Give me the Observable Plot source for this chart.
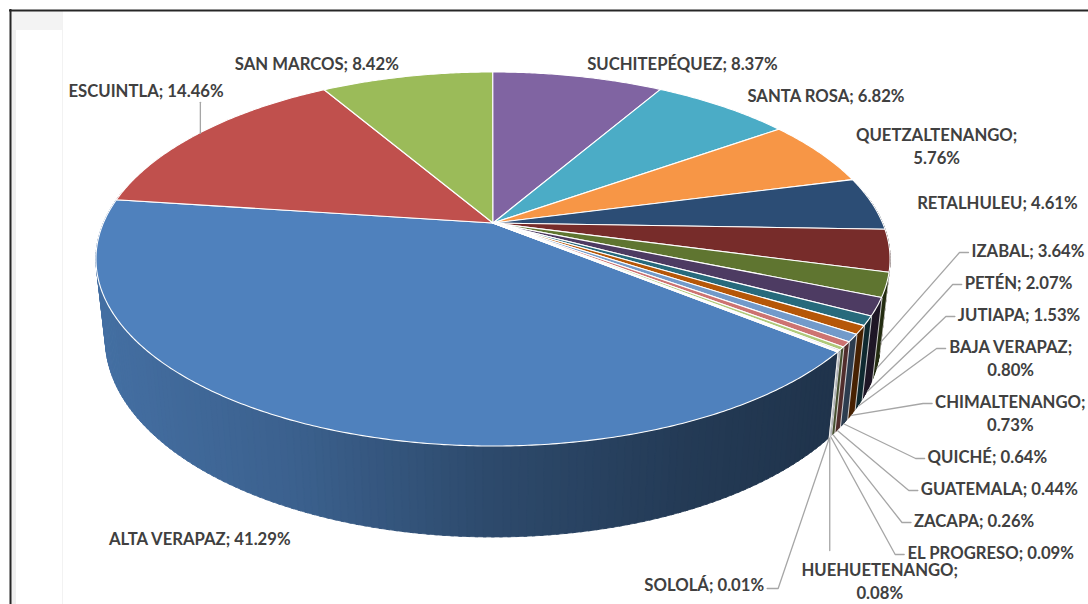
<!DOCTYPE html>
<html>
<head>
<meta charset="utf-8">
<script src="https://cdn.jsdelivr.net/npm/d3@7"></script>
<script src="https://cdn.jsdelivr.net/npm/@observablehq/plot@0.6"></script>
<style>
  html, body { margin: 0; padding: 0; background: #fff; }
  svg { display: block; }
</style>
</head>
<body>
<div id="chart"></div>
<script>
// ---------------- data ----------------
const categories = ["ALTA VERAPAZ", "ESCUINTLA", "SAN MARCOS", "SUCHITEPÉQUEZ", "SANTA ROSA",
  "QUETZALTENANGO", "RETALHULEU", "IZABAL", "PETÉN", "JUTIAPA", "BAJA VERAPAZ", "CHIMALTENANGO",
  "QUICHÉ", "GUATEMALA", "ZACAPA", "EL PROGRESO", "HUEHUETENANGO", "SOLOLÁ"];
const values = [41.29, 14.46, 8.42, 8.37, 6.82, 5.76, 4.61, 3.64, 2.07, 1.53, 0.80, 0.73,
  0.64, 0.44, 0.26, 0.09, 0.08, 0.01];
const colors = ["#4F81BD", "#C0504D", "#9BBB59", "#8064A2", "#4BACC6", "#F79646", "#2C4D75",
  "#772C2A", "#5F7530", "#4D3B62", "#276A7C", "#B65708", "#729ACA", "#CD7371", "#AFC97A",
  "#9983B5", "#6FBDD1", "#F9AB6B"];
const wrappedLabels = ["QUETZALTENANGO", "BAJA VERAPAZ", "CHIMALTENANGO", "HUEHUETENANGO"];

// ---------------- layout ----------------
const W = 1088, H = 604;
const startAngle = 129;              // first slice angle, degrees clockwise from 12 o'clock
const view = {cx: 493, cy: 223, f: 1795, D: 4.607, tilt: 27.53, depth: 0.2338};
const sb = Math.sin(view.tilt * Math.PI / 180), cb = Math.cos(view.tilt * Math.PI / 180);
function proj(deg, r, Y) {
  const a = deg * Math.PI / 180;
  const X = r * Math.sin(a), Z = -r * Math.cos(a);
  const yc = Y * cb - Z * sb, zc = Y * sb + Z * cb;
  const s = view.f / (view.D - zc);
  return [view.cx + X * s, view.cy - yc * s];
}
const total = d3.sum(values);
let cum = 0;
const slices = categories.map((name, i) => {
  const a0 = startAngle + 360 * cum / total; cum += values[i];
  const a1 = startAngle + 360 * cum / total;
  return {i, name, value: values[i], color: colors[i], a0, a1, mid: (a0 + a1) / 2};
});

// top face sectors
const C = proj(0, 0, 0);
const topPts = [];
for (const s of slices) {
  const n = Math.max(1, Math.ceil((s.a1 - s.a0) / 0.5));
  for (let k = 0; k <= n; ++k) {
    const a = s.a0 + (s.a1 - s.a0) * k / n;
    const [x, y] = proj(a, 1, 0);
    topPts.push({id: s.i, x1: C[0], y1: C[1], x2: x, y2: y, fill: s.color});
  }
}

// side wall
const kk = cb / view.D;
const silR = Math.acos(-kk) * 180 / Math.PI, silL = 360 - silR;
const xL = proj(silL, 1, 0)[0], xR = proj(silR, 1, 0)[0];
const shade = d3.scaleLinear().domain([0, .25, .5, .75, 1]).range([0.86, 0.75, 0.57, 0.45, 0.38]).clamp(true);
const quads = [];
for (const s of slices) for (const shift of [0, -360]) {
  const lo = Math.max(s.a0 + shift, 80), hi = Math.min(s.a1 + shift, 280);
  if (hi <= lo) continue;
  const n = Math.max(1, Math.ceil(hi - lo));
  for (let k = 0; k < n; ++k) {
    const b0 = lo + (hi - lo) * k / n, b1 = lo + (hi - lo) * (k + 1) / n, bm = (b0 + b1) / 2;
    const t = (proj(bm, 1, 0)[0] - xL) / (xR - xL);
    const c = d3.rgb(s.color), fct = shade(t);
    const fill = d3.rgb(c.r * fct, c.g * fct, c.b * fct).formatHex();
    const ext = k < n - 1 ? 0.35 : 0;
    quads.push({depth: -Math.cos(bm * Math.PI / 180), fill, b: [b0, b1 + ext]});
  }
}
quads.sort((a, b) => a.depth - b.depth);
const wallPts = quads.flatMap((q, j) => q.b.map(b => {
  const T = proj(b, 1, 0), B = proj(b, 1, -view.depth);
  return {id: j, x1: B[0], y1: B[1], x2: T[0], y2: T[1], fill: q.fill};
}));
const seps = [];
for (const s of slices) {
  const a = ((s.a0 % 360) + 360) % 360;
  if (a > silR + 0.5 && a < silL - 0.5) {
    const T = proj(a, 1, 0), B = proj(a, 1, -view.depth);
    seps.push({x1: T[0], y1: T[1], x2: B[0], y2: B[1]});
  }
}

// labels
const FONT = "Lato", FS = 16.7, LH = 23;
const ctx = document.createElement("canvas").getContext("2d");
ctx.font = `bold ${FS}px ${FONT}`;
const measure = t => d3.max(t.split("\n"), l => ctx.measureText(l).width);
const labelText = s => `${s.name};${wrappedLabels.includes(s.name) ? "\n" : " "}${s.value.toFixed(2)}%`;
const labels = [], leaders = [];
let lid = 0;
const addLeader = pts => { pts.forEach(p => leaders.push({id: lid, x: p[0], y: p[1]})); lid++; };
const innerLeft = 68;
for (const s of slices.filter(s => s.value >= 4)) {
  const text = labelText(s), w = measure(text);
  const a = s.mid * Math.PI / 180, X = Math.sin(a), Z = -Math.cos(a);
  let [x, y] = Z < 0 ? proj(s.mid, 1.12, 0) : proj(s.mid, 1.09, -view.depth);
  let left = X > 0.05 ? x : X < -0.05 ? x - w : x - w / 2;
  if (left < innerLeft) {
    const e = proj(s.mid, 1, 0);
    left = innerLeft;
    y = e[1] - 44;
    addLeader([e, [e[0], y + 13]]);
  }
  labels.push({text, x: left + w / 2, y});
}
let colTop = 237.5;
const gap = 9, colBottom = 566;
const bottomRow = [];
for (const s of slices.filter(s => s.value < 4)) {
  const text = labelText(s), w = measure(text), nl = text.split("\n").length, h = nl * LH;
  const am = Math.max(silR + 0.4, Math.min(silL - 0.4, ((s.mid % 360) + 360) % 360));
  const attach = proj(am, 1, -view.depth);
  if (bottomRow.length || colTop + h > colBottom) { bottomRow.push({text, w, nl, attach}); continue; }
  const yc = colTop + h / 2, y1 = colTop + LH / 2;
  const left = Math.min(971 - 0.213 * (yc - 249), W - 3 - w);
  labels.push({text, x: left + w / 2, y: yc});
  addLeader([attach, [left - 12, y1 + 3], [left - 3, y1 + 3]]);
  colTop += h + gap;
}
bottomRow.forEach((b, j) => {
  const yc = 580;
  if (j % 2 === 0) {
    labels.push({text: b.text, x: b.attach[0] + 50, y: yc});
    addLeader([b.attach, [b.attach[0], yc - b.nl * LH / 2 - 7]]);
  } else {
    const right = b.attach[0] - 65;
    labels.push({text: b.text, x: right - b.w / 2, y: yc + 3});
    addLeader([b.attach, [right + 14, yc + 8], [right + 3, yc + 8]]);
  }
});

// ---------------- chart ----------------
const chart = Plot.plot({
  width: W, height: H, margin: 0,
  x: {domain: [0, W], range: [0, W], axis: null},
  y: {domain: [0, H], range: [0, H], axis: null},
  color: {type: "identity"},
  style: {background: "#fff", overflow: "visible"},
  marks: [
    Plot.rect([0], {x1: 11, x2: 16, y1: 11, y2: H, fill: "#efefef"}),
    Plot.rect([0], {x1: 12, x2: 62, y1: 11, y2: 30, fill: "#f3f3f3"}),
    Plot.ruleX([62], {y1: 11, y2: H, stroke: "#f2f2f2", strokeWidth: 1}),
    Plot.ruleY([10], {x1: 9, x2: W, stroke: "#262626", strokeWidth: 2}),
    Plot.ruleX([10], {y1: 9, y2: H, stroke: "#262626", strokeWidth: 2}),
    Plot.area(wallPts, {x1: "x1", y1: "y1", x2: "x2", y2: "y2", z: "id", fill: "fill", stroke: "fill", strokeWidth: 0.8}),
    Plot.link(seps, {x1: "x1", y1: "y1", x2: "x2", y2: "y2", stroke: "#fff", strokeWidth: 0.9, strokeOpacity: 0.85}),
    Plot.area(topPts, {x1: "x1", y1: "y1", x2: "x2", y2: "y2", z: "id", fill: "fill", stroke: "#fff", strokeWidth: 1.1, strokeLinejoin: "round"}),
    Plot.line(leaders, {x: "x", y: "y", z: "id", stroke: "#a6a6a6", strokeWidth: 1.3}),
    Plot.text(labels, {x: "x", y: "y", text: "text", textAnchor: "middle", lineHeight: LH / FS,
      fontSize: FS, fontWeight: "bold", fontFamily: FONT, fill: "#404040"})
  ]
});
document.getElementById("chart").appendChild(chart);
</script>
</body>
</html>
